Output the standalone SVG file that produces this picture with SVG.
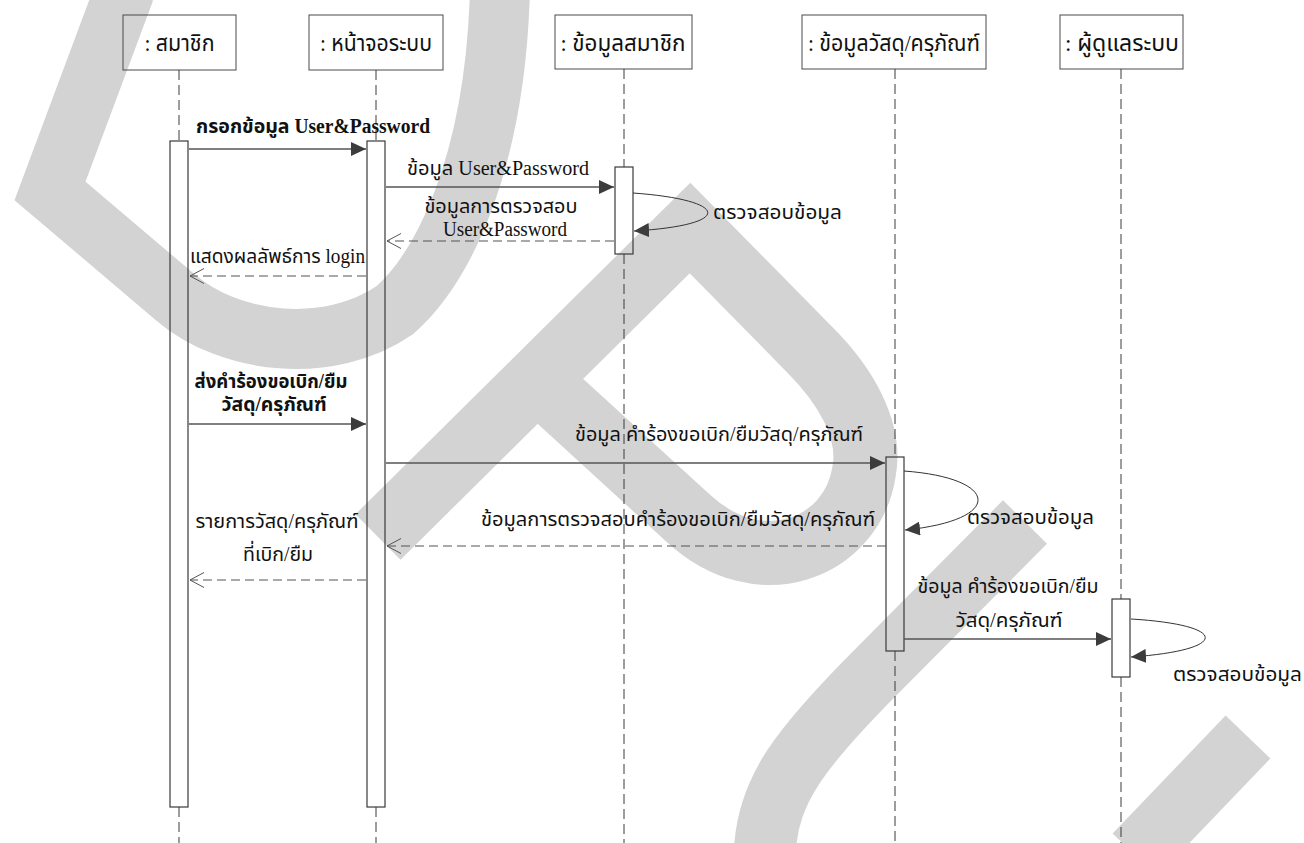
<svg xmlns="http://www.w3.org/2000/svg" width="1304" height="843" viewBox="0 0 1304 843">
  <defs>
    <style>
      .wm { fill: none; stroke: #d3d3d3; stroke-linejoin: miter; stroke-linecap: butt; }
      .box { fill: none; stroke: #4a4a4a; stroke-width: 1; }
      .bar { fill: none; stroke: #3a3a3a; stroke-width: 1.2; }
      .life { stroke: #3a3a3a; stroke-width: 1; stroke-dasharray: 10 5; fill: none; }
      .call { stroke: #555; stroke-width: 1.3; fill: none; marker-end: url(#solid); }
      .ret { stroke: #555; stroke-width: 1.1; stroke-dasharray: 9 5; fill: none; marker-end: url(#open); }
      .self { stroke: #333; stroke-width: 1; fill: none; marker-end: url(#solid); }
      .t { font-family: "Liberation Serif", "Noto Sans Thai", serif; font-size: 20px; fill: #111; }
      .h { font-family: "Liberation Serif", "Noto Sans Thai", serif; font-size: 23px; fill: #111; }
      .b { font-weight: bold; }
      .m { text-anchor: middle; }
    </style>
    <marker id="solid" viewBox="0 0 15 14" refX="15" refY="7" markerWidth="15" markerHeight="14" markerUnits="userSpaceOnUse" orient="auto">
      <path d="M0,0 L15,7 L0,14 Z" fill="#3c3c3c" stroke="none"/>
    </marker>
    <marker id="open" viewBox="0 0 16 16" refX="15" refY="8" markerWidth="16" markerHeight="16" markerUnits="userSpaceOnUse" orient="auto">
      <path d="M1,0.5 L15,8 L1,15.5" fill="none" stroke="#555" stroke-width="1" stroke-dasharray="none"/>
    </marker>
  </defs>

  <rect width="1304" height="843" fill="#fff"/>

  <!-- background ribbon mark -->
  <g id="watermark">
    <path class="wm" stroke-width="60" d="M125,-10 L50,191 L175,297 C230,345 330,355 395,310 C440,270 495,170 500,-10"/>
    <path class="wm" stroke-width="64" d="M378,537 L690,228 L810,350 C845,385 872,430 864,472 C852,548 760,585 688,518 L536,379"/>
    <path class="wm" stroke-width="62" d="M1025,522 L880,668 C800,748 768,790 765,850"/>
    <path class="wm" stroke-width="62" d="M1248,737 L1135,855"/>
  </g>

  <!-- participants -->
  <g id="member">
    <rect class="box" x="123" y="15" width="113" height="55"/>
    <text class="h m" x="179.5" y="51" textLength="70" lengthAdjust="spacingAndGlyphs">: สมาชิก</text>
    <line class="life" x1="179" y1="70" x2="179" y2="141"/>
    <line class="life" x1="179" y1="807" x2="179" y2="843"/>
    <rect class="bar" x="170" y="141" width="18" height="666"/>
  </g>

  <g id="screen">
    <rect class="box" x="309" y="15" width="134" height="55"/>
    <text class="h m" x="376" y="51" textLength="112" lengthAdjust="spacingAndGlyphs">: หน้าจอระบบ</text>
    <line class="life" x1="376" y1="70" x2="376" y2="141"/>
    <line class="life" x1="376" y1="807" x2="376" y2="843"/>
    <rect class="bar" x="367" y="141" width="18" height="666"/>
  </g>

  <g id="member-data">
    <rect class="box" x="555" y="15" width="137" height="54"/>
    <text class="h m" x="623" y="51" textLength="125" lengthAdjust="spacingAndGlyphs">: ข้อมูลสมาชิก</text>
    <line class="life" x1="624" y1="69" x2="624" y2="167"/>
    <line class="life" x1="624" y1="254" x2="624" y2="843"/>
    <rect class="bar" x="615" y="167" width="18" height="87"/>
  </g>

  <g id="equipment-data">
    <rect class="box" x="802" y="15" width="184" height="54"/>
    <text class="h m" x="894" y="51" textLength="172" lengthAdjust="spacingAndGlyphs">: ข้อมูลวัสดุ/ครุภัณฑ์</text>
    <line class="life" x1="895" y1="69" x2="895" y2="457"/>
    <line class="life" x1="895" y1="651" x2="895" y2="843"/>
    <rect class="bar" x="886" y="457" width="18" height="194"/>
  </g>

  <g id="admin">
    <rect class="box" x="1060" y="15" width="123" height="54"/>
    <text class="h m" x="1122" y="51" textLength="114" lengthAdjust="spacingAndGlyphs">: ผู้ดูแลระบบ</text>
    <line class="life" x1="1121" y1="69" x2="1121" y2="599"/>
    <line class="life" x1="1121" y1="677" x2="1121" y2="843"/>
    <rect class="bar" x="1112" y="599" width="18" height="78"/>
  </g>

  <!-- messages -->
  <g id="connectors">
    <line class="call" x1="189" y1="149" x2="366" y2="149"/>
    <line class="call" x1="386" y1="187" x2="614" y2="187"/>
    <path class="self" d="M633,193 C730,200 735,225 634,231"/>
    <line class="ret" x1="614" y1="241" x2="387" y2="241"/>
    <line class="ret" x1="366" y1="276" x2="190" y2="276"/>
    <line class="call" x1="189" y1="424" x2="366" y2="424"/>
    <line class="call" x1="386" y1="463" x2="885" y2="463"/>
    <path class="self" d="M904,471 C1000,478 1005,520 905,530"/>
    <line class="ret" x1="886" y1="546" x2="387" y2="546"/>
    <line class="ret" x1="366" y1="580" x2="190" y2="580"/>
    <line class="call" x1="904" y1="639" x2="1111" y2="639"/>
    <path class="self" d="M1131,619 C1230,625 1230,650 1131,657"/>
  </g>

  <g id="labels">
    <text class="t b m" x="313" y="133" textLength="234" lengthAdjust="spacingAndGlyphs">กรอกข้อมูล User&amp;Password</text>
    <text class="t m" x="498" y="175" textLength="182" lengthAdjust="spacingAndGlyphs">ข้อมูล User&amp;Password</text>
    <text class="t" x="713" y="219" textLength="129" lengthAdjust="spacingAndGlyphs">ตรวจสอบข้อมูล</text>
    <text class="t m" x="501" y="213" textLength="153" lengthAdjust="spacingAndGlyphs">ข้อมูลการตรวจสอบ</text>
    <text class="t m" x="505" y="236" textLength="124" lengthAdjust="spacingAndGlyphs">User&amp;Password</text>
    <text class="t" x="190" y="263" textLength="175" lengthAdjust="spacingAndGlyphs">แสดงผลลัพธ์การ login</text>
    <text class="t b m" x="271" y="388" textLength="153" lengthAdjust="spacingAndGlyphs">ส่งคำร้องขอเบิก/ยืม</text>
    <text class="t b m" x="274" y="411" textLength="105" lengthAdjust="spacingAndGlyphs">วัสดุ/ครุภัณฑ์</text>
    <text class="t" x="575" y="441" textLength="288" lengthAdjust="spacingAndGlyphs">ข้อมูล คำร้องขอเบิก/ยืมวัสดุ/ครุภัณฑ์</text>
    <text class="t" x="967" y="524" textLength="127" lengthAdjust="spacingAndGlyphs">ตรวจสอบข้อมูล</text>
    <text class="t" x="481" y="526" textLength="394" lengthAdjust="spacingAndGlyphs">ข้อมูลการตรวจสอบคำร้องขอเบิก/ยืมวัสดุ/ครุภัณฑ์</text>
    <text class="t m" x="277" y="528" textLength="163" lengthAdjust="spacingAndGlyphs">รายการวัสดุ/ครุภัณฑ์</text>
    <text class="t m" x="278" y="561" textLength="70" lengthAdjust="spacingAndGlyphs">ที่เบิก/ยืม</text>
    <text class="t m" x="1008" y="593" textLength="181" lengthAdjust="spacingAndGlyphs">ข้อมูล คำร้องขอเบิก/ยืม</text>
    <text class="t m" x="1009" y="627" textLength="107" lengthAdjust="spacingAndGlyphs">วัสดุ/ครุภัณฑ์</text>
    <text class="t" x="1173" y="681" textLength="129" lengthAdjust="spacingAndGlyphs">ตรวจสอบข้อมูล</text>
  </g>
</svg>
